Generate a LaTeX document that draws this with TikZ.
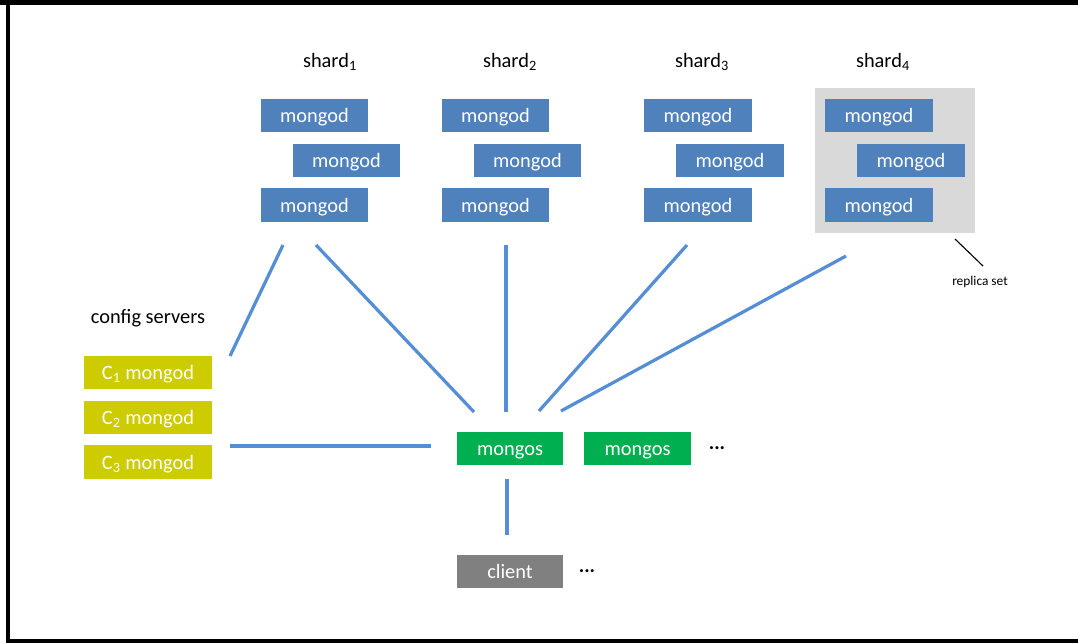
\documentclass[tikz,border=0pt]{standalone}
\usepackage{fontspec}
\setmainfont{Carlito}
\usepackage{tikz}
\usetikzlibrary{positioning}

\definecolor{mdblue}{RGB}{79,129,189}
\definecolor{rsgray}{RGB}{217,217,217}
\definecolor{msgreen}{RGB}{0,176,80}
\definecolor{cfgolive}{RGB}{204,204,0}
\definecolor{linkblue}{RGB}{85,142,213}

\begin{document}
\begin{tikzpicture}[x=0.025cm,y=-0.025cm,
  every node/.style={font=\fontsize{14.5}{16}\selectfont},
  box/.style={rectangle,inner sep=0pt,minimum height=0.825cm,text=white,text height=10.5pt,text depth=0pt},
  mongod/.style={box,fill=mdblue,minimum width=2.675cm},
  mongos/.style={box,fill=msgreen,minimum width=2.65cm},
  cfg/.style={box,fill=cfgolive,minimum width=3.2cm},
  link/.style={linkblue,line width=2.3pt}]
\useasboundingbox (0,0) rectangle (1078,643);
% frame
\fill[black] (0,0) rectangle (1078,5);
\fill[black] (6,0) rectangle (10,643);
\fill[black] (6,639) rectangle (1078,643);

% replica set background
\node[rectangle,fill=rsgray,minimum width=4cm,minimum height=3.625cm,inner sep=0pt] (rs) at (895,160.5) {};

% shards
\foreach \n/\x/\lx in {1/314.5/330,2/495.5/510,3/698/702,4/879/883}{
  \node (sh\n) at (\lx,62) {shard\textsubscript{\n}};
  \node[mongod] (s\n a) at (\x,115.5) {mongod};
  \node[mongod] (s\n b) at (\x+32,160.5) {mongod};
  \node[mongod] (s\n c) at (\x,205) {mongod};
}

\node (rstext) at (980,282) {\fontsize{9.5}{11}\selectfont replica set};
\coordinate (r1) at (955,239);
\coordinate (r2) at (983,266);
\draw[black,line width=0.8pt] (r1)--(r2);

% config servers
\node (cfgs) at (148,318) {config servers};
\node[cfg] (c1) at (148,372.5) {C\textsubscript{1} mongod};
\node[cfg] (c2) at (148,417.5) {C\textsubscript{2} mongod};
\node[cfg] (c3) at (148,462) {C\textsubscript{3} mongod};

% routers and client
\node[mongos] (m1) at (510,448.5) {mongos};
\node[mongos] (m2) at (637.5,448.5) {mongos};
\node (d1) at (717,448) {\textbf{...}};
\node[box,fill=gray,minimum width=2.65cm] (cl) at (510,571.5) {client};
\node (d2) at (587,571) {\textbf{...}};

% links
\coordinate (a1) at (283,245);
\coordinate (b1) at (230,356);
\coordinate (a2) at (316,245);
\coordinate (b2) at (474,412);
\coordinate (a3) at (506,245);
\coordinate (b3) at (506,412);
\coordinate (a4) at (687,245);
\coordinate (b4) at (539,411);
\coordinate (a5) at (846,256);
\coordinate (b5) at (561,411);
\coordinate (a6) at (230,446);
\coordinate (b6) at (431,446);
\coordinate (a7) at (507,479);
\coordinate (b7) at (507,535);
\draw[link] (a1)--(b1);
\draw[link] (a2)--(b2);
\draw[link] (a3)--(b3);
\draw[link] (a4)--(b4);
\draw[link] (a5)--(b5);
\draw[link] (a6)--(b6);
\draw[link] (a7)--(b7);
\end{tikzpicture}
\end{document}
